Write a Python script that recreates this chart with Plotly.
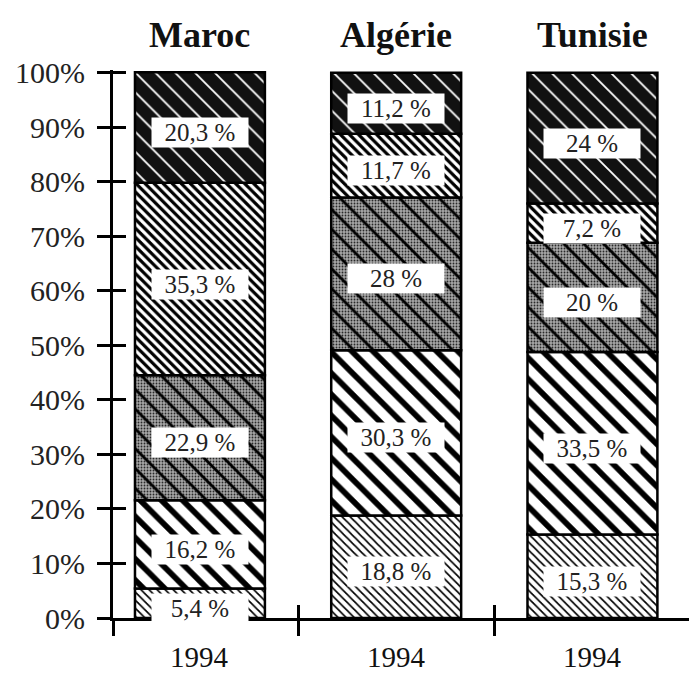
import plotly.graph_objects as go

# Répartition (en %) par pays, segments empilés du bas vers le haut
countries = ["Maroc", "Algérie", "Tunisie"]
years = ["1994", "1994", "1994"]
seg1 = [5.4, 18.8, 15.3]
seg2 = [16.2, 30.3, 33.5]
seg3 = [22.9, 28.0, 20.0]
seg4 = [35.3, 11.7, 7.2]
seg5 = [20.3, 11.2, 24.0]
y_ticks = [0, 10, 20, 30, 40, 50, 60, 70, 80, 90, 100]
y_tick_text = ["0%", "10%", "20%", "30%", "40%", "50%", "60%", "70%", "80%", "90%", "100%"]

segments = [seg1, seg2, seg3, seg4, seg5]
xpos = list(range(len(countries)))
SERIF = "Liberation Serif, Times New Roman, serif"
BAR_W = 0.662
X_RANGE = [-0.443, 2.492]
Y_RANGE = [0, 100.5]
sep_ticks = [X_RANGE[0], 0.5, 1.5]

# hatching for each segment (bottom to top)
styles = [
    dict(shape="\\", size=5.7, solidity=0.3, fgcolor="black", bgcolor="white"),
    dict(shape="\\", size=15, solidity=0.38, fgcolor="black", bgcolor="white"),
    dict(shape="\\", size=14, solidity=0.2, fgcolor="black", bgcolor="rgba(0,0,0,0)"),
    dict(shape="\\", size=6.4, solidity=0.5, fgcolor="black", bgcolor="white"),
    dict(shape="\\", size=14, solidity=0.13, fgcolor="white", bgcolor="#111111"),
]


def fmt(v):
    if float(v).is_integer():
        return f"{int(v)} %"
    return f"{v:.1f}".replace(".", ",") + " %"


fig = go.Figure()
bases = [0.0] * len(countries)
annotations = []
for k, (vals, st) in enumerate(zip(segments, styles)):
    if k == 2:
        # stippled grey ground under the diagonal lines
        fig.add_trace(go.Bar(
            x=xpos, y=vals, base=bases, width=BAR_W,
            marker=dict(color="#9a9a9a",
                        pattern=dict(shape=".", size=3, solidity=0.3,
                                     fgcolor="#2a2a2a", bgcolor="#a8a8a8",
                                     fillmode="replace"),
                        line=dict(color="black", width=0)),
            showlegend=False, hoverinfo="skip"))
    fig.add_trace(go.Bar(
        x=xpos, y=vals, base=bases, width=BAR_W,
        marker=dict(color=st["bgcolor"],
                    pattern=dict(shape=st["shape"], size=st["size"],
                                 solidity=st["solidity"], fgcolor=st["fgcolor"],
                                 bgcolor=st["bgcolor"], fillmode="replace"),
                    line=dict(color="black", width=2.5)),
        showlegend=False, hoverinfo="skip"))
    for i, v in enumerate(vals):
        annotations.append(dict(
            x=xpos[i], y=bases[i] + v / 2, xref="x", yref="y",
            text=fmt(v), showarrow=False, yshift=-5,
            font=dict(family=SERIF, size=25, color="#222222"),
            bgcolor="white", width=94, height=27, borderpad=1))
    bases = [b + v for b, v in zip(bases, vals)]

# country headers and year labels
for i, name in enumerate(countries):
    annotations.append(dict(
        x=xpos[i], y=1.064, xref="x", yref="paper", text=f"<b>{name}</b>",
        showarrow=False, yanchor="middle",
        font=dict(family=SERIF, size=36, color="#111111")))
    annotations.append(dict(
        x=xpos[i], y=-0.071, xref="x", yref="paper", text=years[i],
        showarrow=False, yanchor="middle", height=28,
        font=dict(family=SERIF, size=29, color="#111111")))

# empty trace so the overlay axes (inner halves of the crossing ticks) are drawn
fig.add_trace(go.Scatter(x=[None], y=[None], xaxis="x2", yaxis="y2",
                         showlegend=False, hoverinfo="skip"))

axis_common = dict(showgrid=False, zeroline=False, tickwidth=3, tickcolor="black")
fig.update_layout(
    width=689, height=673,
    margin=dict(l=113, r=0, t=70, b=55),
    paper_bgcolor="white", plot_bgcolor="white",
    barmode="overlay",
    xaxis=dict(range=X_RANGE, tickvals=sep_ticks, ticks="outside", ticklen=15,
               showticklabels=False, showline=True, linewidth=3, linecolor="black",
               **axis_common),
    yaxis=dict(range=Y_RANGE, tickvals=y_ticks, ticktext=y_tick_text,
               ticks="outside", ticklen=13, showline=True, linewidth=3,
               linecolor="black", ticklabelstandoff=6,
               tickfont=dict(family=SERIF, size=30, color="#222222"),
               **axis_common),
    xaxis2=dict(range=X_RANGE, overlaying="x", anchor="y2", tickvals=sep_ticks,
                ticks="inside", ticklen=13, showticklabels=False, showline=False,
                **axis_common),
    yaxis2=dict(range=Y_RANGE, overlaying="y", anchor="x2", tickvals=y_ticks,
                ticks="inside", ticklen=13, showticklabels=False, showline=False,
                **axis_common),
    annotations=annotations,
)

fig.write_html("out.html")
